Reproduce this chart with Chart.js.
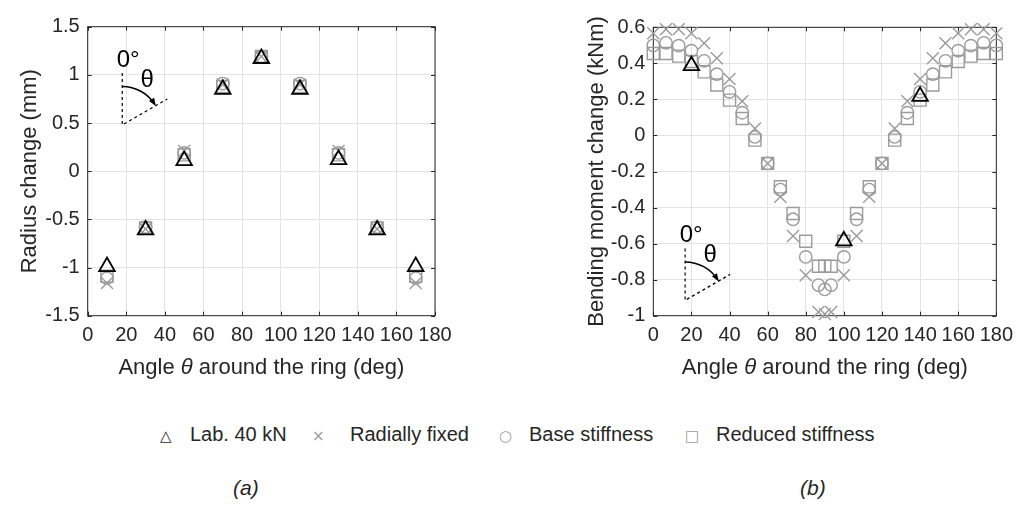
<!DOCTYPE html>
<html>
<head>
<meta charset="utf-8">
<script src="https://cdn.jsdelivr.net/npm/chart.js@4.4.1/dist/chart.umd.min.js"></script>
<style>
  body { margin: 0; background: #fff; font-family: "Liberation Sans", Arial, sans-serif; color: #262626; }
  #page { position: relative; width: 1021px; height: 510px; overflow: hidden; }
  #wrapA { position: absolute; left: 0; top: 0; }
  #wrapB { position: absolute; left: 560px; top: 0; }
  .legend { position: absolute; top: 422px; font-size: 20px; white-space: nowrap; line-height: 24px; }
  .sym { font-family: "DejaVu Sans", sans-serif; font-size: 15px; }
  .grey { color: #9b9b9b; }
  .cap { position: absolute; top: 476px; font-size: 21px; font-style: italic; }
</style>
</head>
<body>
<div id="page">
  <div id="wrapA"><canvas id="chartA" width="460" height="400"></canvas></div>
  <div id="wrapB"><canvas id="chartB" width="461" height="400"></canvas></div>

  <div class="legend" style="left:160px"><span class="sym">&#9651;</span></div>
  <div class="legend" style="left:190px">Lab. 40 kN</div>
  <div class="legend grey" style="left:312px"><span class="sym">&#215;</span></div>
  <div class="legend" style="left:350px">Radially fixed</div>
  <div class="legend grey" style="left:499px"><span class="sym">&#9675;</span></div>
  <div class="legend" style="left:529px">Base stiffness</div>
  <div class="legend grey" style="left:685px"><span class="sym">&#9633;</span></div>
  <div class="legend" style="left:716px">Reduced stiffness</div>

  <div class="cap" style="left:233px">(a)</div>
  <div class="cap" style="left:800px">(b)</div>
</div>

<script>
// (a) radius change at the nine measuring points
const xA = [10, 30, 50, 70, 90, 110, 130, 150, 170];
const labA = [-0.99, -0.61, 0.11, 0.85, 1.17, 0.85, 0.12, -0.61, -0.99];
const fixedA = [-1.16, -0.60, 0.21, 0.90, 1.19, 0.90, 0.21, -0.60, -1.16];
const baseA = [-1.11, -0.58, 0.19, 0.91, 1.19, 0.91, 0.19, -0.58, -1.11];
const reducedA = [-1.09, -0.59, 0.17, 0.88, 1.19, 0.88, 0.17, -0.59, -1.09];

// (b) bending moment change along the ring
const xB = [0, 6.67, 13.33, 20, 26.67, 33.33, 40, 46.67, 53.33, 60, 66.67, 73.33, 80, 86.67, 90,
            93.33, 100, 106.67, 113.33, 120, 126.67, 133.33, 140, 146.67, 153.33, 160, 166.67, 173.33, 180];
const fixedB = [0.567, 0.589, 0.589, 0.567, 0.511, 0.428, 0.313, 0.19, 0.039, -0.156, -0.34, -0.558, -0.776, -0.98, -0.99,
                -0.98, -0.776, -0.558, -0.34, -0.156, 0.039, 0.19, 0.313, 0.428, 0.511, 0.567, 0.589, 0.589, 0.567];
const baseB = [0.50, 0.514, 0.498, 0.47, 0.414, 0.34, 0.242, 0.126, -0.008, -0.155, -0.30, -0.465, -0.674, -0.83, -0.854,
               -0.83, -0.674, -0.465, -0.30, -0.155, -0.008, 0.126, 0.242, 0.34, 0.414, 0.47, 0.498, 0.514, 0.50];
const reducedB = [0.455, 0.455, 0.44, 0.41, 0.353, 0.28, 0.196, 0.094, -0.026, -0.155, -0.285, -0.433, -0.587, -0.726, -0.726,
                  -0.726, -0.587, -0.433, -0.285, -0.155, -0.026, 0.094, 0.196, 0.28, 0.353, 0.41, 0.44, 0.455, 0.455];
const labBx = [20, 100, 140];
const labB = [0.387, -0.585, 0.217];

// tick labels
const xTicks = [0, 20, 40, 60, 80, 100, 120, 140, 160, 180];
const yTicksA = [-1.5, -1, -0.5, 0, 0.5, 1, 1.5];
const yTicksB = [-1, -0.8, -0.6, -0.4, -0.2, 0, 0.2, 0.4, 0.6];

const AXIS = '#262626';
const GREY = '#9b9b9b';
const FONT = '"Liberation Sans", Arial, sans-serif';

const pts = (xs, ys) => xs.map((x, i) => ({ x, y: ys[i] }));

const markerSet = (lab, fixed, base, reduced) => [
    { data: lab, pointStyle: 'triangle', pointRadius: 9, borderColor: '#000', pointBorderWidth: 1.8 },
    { data: fixed, pointStyle: 'crossRot', pointRadius: 8.5, borderColor: GREY, pointBorderWidth: 1.4 },
    { data: base, pointStyle: 'circle', pointRadius: 6.2, borderColor: GREY, pointBorderWidth: 1.4 },
    { data: reduced, pointStyle: 'rect', pointRadius: 8.5, borderColor: GREY, pointBorderWidth: 1.4 }
].map(d => Object.assign(d, { backgroundColor: 'rgba(0,0,0,0)', showLine: false, clip: false }));

// box around the axes with inward tick marks on all four sides
const boxPlugin = {
    id: 'box',
    beforeDatasetsDraw(chart) {
        const { ctx, chartArea: a, scales } = chart;
        ctx.save();
        ctx.strokeStyle = AXIS;
        ctx.lineWidth = 1;
        ctx.strokeRect(a.left, a.top, a.right - a.left, a.bottom - a.top);
        const t = 4;
        ctx.beginPath();
        scales.x.ticks.forEach(tk => {
            const px = Math.round(scales.x.getPixelForValue(tk.value)) + 0.5;
            ctx.moveTo(px, a.bottom); ctx.lineTo(px, a.bottom - t);
            ctx.moveTo(px, a.top); ctx.lineTo(px, a.top + t);
        });
        scales.y.ticks.forEach(tk => {
            const py = Math.round(scales.y.getPixelForValue(tk.value)) + 0.5;
            ctx.moveTo(a.left, py); ctx.lineTo(a.left + t, py);
            ctx.moveTo(a.right, py); ctx.lineTo(a.right - t, py);
        });
        ctx.stroke();
        ctx.restore();
    }
};

// x-axis title with an italic theta
const xTitlePlugin = {
    id: 'xTitle',
    afterDraw(chart) {
        const { ctx, chartArea: a } = chart;
        const parts = [['Angle ', 'normal'], ['\u03B8', 'italic'], [' around the ring (deg)', 'normal']];
        ctx.save();
        ctx.fillStyle = AXIS;
        ctx.textBaseline = 'middle';
        let total = 0;
        parts.forEach(p => { ctx.font = `${p[1]} 22px ${FONT}`; total += ctx.measureText(p[0]).width; });
        let x = (a.left + a.right) / 2 - total / 2;
        parts.forEach(p => {
            ctx.font = `${p[1]} 22px ${FONT}`;
            ctx.fillText(p[0], x, 368);
            x += ctx.measureText(p[0]).width;
        });
        ctx.restore();
    }
};

// little sketch of the angle convention, anchored at a data point
const insetPlugin = {
    id: 'inset',
    afterDatasetsDraw(chart, args, opts) {
        const { ctx, scales } = chart;
        const px = scales.x.getPixelForValue(opts.at[0]);
        const py = scales.y.getPixelForValue(opts.at[1]);
        const len = 52, r = 38.5;
        const ang = -Math.PI / 6;
        ctx.save();
        ctx.strokeStyle = '#000';
        ctx.fillStyle = '#000';
        ctx.lineWidth = 1.2;
        ctx.setLineDash([3, 3]);
        ctx.beginPath();
        ctx.moveTo(px, py - len); ctx.lineTo(px, py);
        ctx.lineTo(px + len * Math.cos(ang), py + len * Math.sin(ang));
        ctx.stroke();
        ctx.setLineDash([]);
        ctx.lineWidth = 1.5;
        const a0 = -Math.PI / 2, a1 = ang - 0.04;
        ctx.beginPath();
        ctx.arc(px, py, r, a0, a1);
        ctx.stroke();
        // arrow head at the end of the arc
        const ex = px + r * Math.cos(a1), ey = py + r * Math.sin(a1);
        const dir = a1 + Math.PI / 2;
        ctx.beginPath();
        ctx.moveTo(ex + 2 * Math.cos(dir), ey + 2 * Math.sin(dir));
        ctx.lineTo(ex - 6 * Math.cos(dir) + 3 * Math.cos(dir + Math.PI / 2), ey - 6 * Math.sin(dir) + 3 * Math.sin(dir + Math.PI / 2));
        ctx.lineTo(ex - 6 * Math.cos(dir) - 3 * Math.cos(dir + Math.PI / 2), ey - 6 * Math.sin(dir) - 3 * Math.sin(dir + Math.PI / 2));
        ctx.closePath();
        ctx.fill();
        ctx.font = `24px ${FONT}`;
        ctx.textAlign = 'center';
        ctx.textBaseline = 'middle';
        ctx.fillText('0\u00B0', px + 6, py - 65);
        ctx.fillText('\u03B8', px + 25, py - 45);
        ctx.restore();
    }
};

const makeChart = (id, datasets, yTicks, yMin, yMax, yTitle, geom) => new Chart(document.getElementById(id), {
    type: 'scatter',
    data: { datasets },
    options: {
        responsive: false,
        animation: false,
        devicePixelRatio: 1,
        layout: { padding: { left: 0, top: geom.top, right: geom.right, bottom: 0 } },
        plugins: {
            legend: { display: false },
            tooltip: { enabled: false },
            inset: { at: geom.inset }
        },
        scales: {
            x: {
                type: 'linear', min: 0, max: 180,
                afterBuildTicks: s => { s.ticks = xTicks.map(v => ({ value: v })); },
                afterFit: s => { s.height = 84.3; },
                grid: { color: '#e3e3e3', drawTicks: false },
                border: { display: false },
                ticks: { color: AXIS, font: { family: FONT, size: 20 }, padding: 8, maxRotation: 0, autoSkip: false, callback: v => String(v) }
            },
            y: {
                type: 'linear', min: yMin, max: yMax,
                afterBuildTicks: s => { s.ticks = yTicks.map(v => ({ value: v })); },
                afterFit: s => { s.width = geom.yWidth; },
                grid: { color: '#e3e3e3', drawTicks: false },
                border: { display: false },
                ticks: { color: AXIS, font: { family: FONT, size: 20 }, padding: 8, autoSkip: false, callback: v => String(v) },
                title: { display: true, text: yTitle, color: AXIS, font: { family: FONT, size: 22 }, padding: { top: geom.titlePad, bottom: 0 } }
            }
        }
    },
    plugins: [boxPlugin, xTitlePlugin, insetPlugin]
});

makeChart('chartA',
    markerSet(pts(xA, labA), pts(xA, fixedA), pts(xA, baseA), pts(xA, reducedA)),
    yTicksA, -1.5, 1.5, 'Radius change (mm)',
    { top: 26.7, right: 25, yWidth: 87.7, titlePad: 17, inset: [17.9, 0.48] });

makeChart('chartB',
    markerSet(pts(labBx, labB), pts(xB, fixedB), pts(xB, baseB), pts(xB, reducedB)),
    yTicksB, -1, 0.6, 'Bending moment change (kNm)',
    { top: 27.3, right: 19.3, yWidth: 93.3, titlePad: 24, inset: [16.7, -0.915] });
</script>
</body>
</html>
